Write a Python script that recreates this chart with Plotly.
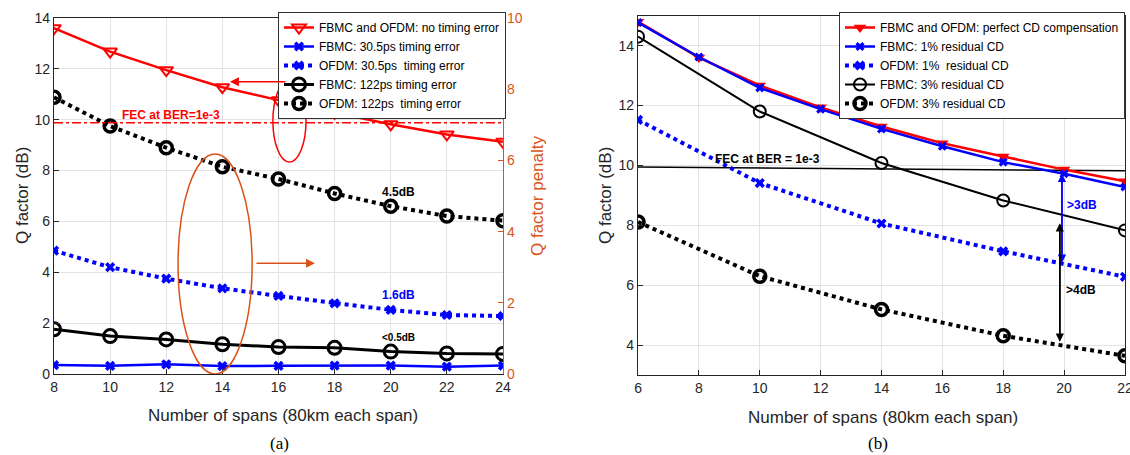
import plotly.graph_objects as go

# ---------------- data: panel (a) ----------------
spans_a = [8, 10, 12, 14, 16, 18, 20, 22, 24]
q_none_a = [13.6, 12.68, 11.95, 11.28, 10.77, 10.27, 9.82, 9.42, 9.13]
q_fbmc_30 = [0.35, 0.32, 0.38, 0.31, 0.32, 0.33, 0.33, 0.29, 0.33]
q_ofdm_30 = [4.85, 4.2, 3.75, 3.37, 3.07, 2.78, 2.52, 2.32, 2.28]
q_fbmc_122 = [1.76, 1.49, 1.36, 1.17, 1.06, 1.03, 0.88, 0.81, 0.79]
q_ofdm_122 = [10.88, 9.75, 8.9, 8.15, 7.67, 7.1, 6.6, 6.21, 6.03]
fec_a = 9.88

# ---------------- data: panel (b) ----------------
spans_b_full = [6, 8, 10, 12, 14, 16, 18, 20, 22]
spans_b = [6, 10, 14, 18, 22]
q_perfect = [14.8, 13.6, 12.67, 11.94, 11.3, 10.74, 10.3, 9.86, 9.47]
q_fbmc_1 = [14.77, 13.62, 12.59, 11.88, 11.22, 10.64, 10.11, 9.72, 9.28]
q_ofdm_1 = [11.52, 9.41, 8.06, 7.13, 6.28]
q_fbmc_3 = [14.3, 11.8, 10.08, 8.83, 7.83]
q_ofdm_3 = [8.11, 6.3, 5.19, 4.31, 3.64]
fec_b = [9.95, 9.82]
fec_b_x = [6, 22]

W, H = 1130, 455
def px(x):
    return x / W
def py(y):
    return 1 - y / H

RED = "#FF0000"
BLUE = "#0000FF"
BLACK = "#000000"
ORANGE = "#D95319"
AX = "#262626"
GRID = "#E3E3E3"
FONT = "Liberation Sans, Arial, sans-serif"
SERIF = "Liberation Serif, Times New Roman, serif"

fig = go.Figure()

# panel (a) traces
fig.add_trace(go.Scatter(x=spans_a, y=q_none_a, mode="lines+markers",
    name="FBMC and OFDM: no timing error", legend="legend",
    line=dict(color=RED, width=2.5),
    marker=dict(symbol="triangle-down-open", size=12, color=RED, line=dict(width=2, color=RED)),
    xaxis="x", yaxis="y"))
fig.add_trace(go.Scatter(x=spans_a, y=q_fbmc_30, mode="lines+markers",
    name="FBMC: 30.5ps timing error", legend="legend",
    line=dict(color=BLUE, width=2.5),
    marker=dict(symbol="x", size=9, color=BLUE),
    xaxis="x", yaxis="y"))
fig.add_trace(go.Scatter(x=spans_a, y=q_ofdm_30, mode="lines+markers",
    name="OFDM: 30.5ps  timing error", legend="legend",
    line=dict(color=BLUE, width=4, dash="dot"),
    marker=dict(symbol="x", size=9, color=BLUE),
    xaxis="x", yaxis="y"))
fig.add_trace(go.Scatter(x=spans_a, y=q_fbmc_122, mode="lines+markers",
    name="FBMC: 122ps timing error", legend="legend",
    line=dict(color=BLACK, width=3),
    marker=dict(symbol="circle-open", size=13, color=BLACK, line=dict(width=3, color=BLACK)),
    xaxis="x", yaxis="y"))
fig.add_trace(go.Scatter(x=spans_a, y=q_ofdm_122, mode="lines+markers",
    name="OFDM: 122ps  timing error", legend="legend",
    line=dict(color=BLACK, width=4, dash="dot"),
    marker=dict(symbol="circle-open", size=12, color=BLACK, line=dict(width=3.5, color=BLACK)),
    xaxis="x", yaxis="y"))
fig.add_trace(go.Scatter(x=[spans_a[0], spans_a[-1]], y=[fec_a, fec_a], mode="lines",
    showlegend=False, hoverinfo="skip",
    line=dict(color=RED, width=1.5, dash="dashdot"), xaxis="x", yaxis="y"))
# dummy for right axis
fig.add_trace(go.Scatter(x=[None], y=[None], showlegend=False, hoverinfo="skip",
    xaxis="x", yaxis="y2"))

# panel (b) traces
fig.add_trace(go.Scatter(x=fec_b_x, y=fec_b, mode="lines", showlegend=False, hoverinfo="skip",
    line=dict(color=BLACK, width=1.5), xaxis="x2", yaxis="y3"))
fig.add_trace(go.Scatter(x=spans_b_full, y=q_perfect, mode="lines+markers",
    name="FBMC and OFDM: perfect CD compensation", legend="legend2",
    line=dict(color=RED, width=2.5),
    marker=dict(symbol="triangle-down", size=11, color=RED),
    xaxis="x2", yaxis="y3"))
fig.add_trace(go.Scatter(x=spans_b_full, y=q_fbmc_1, mode="lines+markers",
    name="FBMC: 1% residual CD", legend="legend2",
    line=dict(color=BLUE, width=2.5),
    marker=dict(symbol="x", size=8, color=BLUE),
    xaxis="x2", yaxis="y3"))
fig.add_trace(go.Scatter(x=spans_b, y=q_ofdm_1, mode="lines+markers",
    name="OFDM: 1%  residual CD", legend="legend2",
    line=dict(color=BLUE, width=4, dash="dot"),
    marker=dict(symbol="x", size=9, color=BLUE),
    xaxis="x2", yaxis="y3"))
fig.add_trace(go.Scatter(x=spans_b, y=q_fbmc_3, mode="lines+markers",
    name="FBMC: 3% residual CD", legend="legend2",
    line=dict(color=BLACK, width=2),
    marker=dict(symbol="circle-open", size=12, color=BLACK, line=dict(width=2, color=BLACK)),
    xaxis="x2", yaxis="y3"))
fig.add_trace(go.Scatter(x=spans_b, y=q_ofdm_3, mode="lines+markers",
    name="OFDM: 3% residual CD", legend="legend2",
    line=dict(color=BLACK, width=4, dash="dot"),
    marker=dict(symbol="circle-open", size=12, color=BLACK, line=dict(width=3.5, color=BLACK)),
    xaxis="x2", yaxis="y3"))

tickfont = dict(family=FONT, size=14, color=AX)
common_x = dict(showgrid=True, gridcolor=GRID, gridwidth=1, showline=True, linecolor=AX,
                linewidth=1.2, mirror=True, ticks="inside", ticklen=5, tickcolor=AX,
                tickfont=tickfont, zeroline=False, automargin=False, ticklabeloverflow="allow")

fig.update_layout(
    width=W, height=H,
    margin=dict(l=0, r=0, t=0, b=0, autoexpand=False),
    paper_bgcolor="white", plot_bgcolor="white",
    font=dict(family=FONT, color=AX),
    xaxis=dict(domain=[px(54), px(503)], range=[7.999, 24.001], tickvals=spans_a, anchor="y", **common_x),
    yaxis=dict(domain=[py(374), py(18)], range=[0, 14], tickvals=[0, 2, 4, 6, 8, 10, 12, 14],
               showgrid=True, gridcolor=GRID, showline=True, linecolor=AX, linewidth=1.2,
               ticks="inside", ticklen=5, tickcolor=AX, tickfont=tickfont, zeroline=False,
               anchor="x", automargin=False, ticklabeloverflow="allow"),
    yaxis2=dict(range=[0, 10], tickvals=[0, 2, 4, 6, 8, 10], overlaying="y", side="right",
                anchor="x", showgrid=False, showline=True, linecolor=ORANGE, linewidth=1.2,
                ticks="inside", ticklen=5, tickcolor=ORANGE, zeroline=False, automargin=False,
                ticklabeloverflow="allow",
                tickfont=dict(family=FONT, size=14, color=ORANGE)),
    xaxis2=dict(domain=[px(638), px(1125)], range=[5.999, 22.001], tickvals=[6, 8, 10, 12, 14, 16, 18, 20, 22],
                anchor="y3", **common_x),
    yaxis3=dict(domain=[py(375), py(15.7)], range=[3, 15], tickvals=[4, 6, 8, 10, 12, 14],
                anchor="x2", **common_x),
    legend=dict(x=px(506), y=py(12), xanchor="right", yanchor="top",
                bgcolor="white", bordercolor="#333333", borderwidth=1,
                font=dict(family=FONT, size=12, color=BLACK), itemwidth=30,
                tracegroupgap=0),
    legend2=dict(x=px(1125), y=py(12), xanchor="right", yanchor="top",
                 bgcolor="white", bordercolor="#333333", borderwidth=1,
                 font=dict(family=FONT, size=12, color=BLACK), itemwidth=30,
                 tracegroupgap=0),
    showlegend=True,
)

# shapes: ellipses
fig.add_shape(type="circle", xref="x", yref="y", x0=15.8, x1=16.98, y0=8.34, y1=11.56,
              line=dict(color=RED, width=1.5))
fig.add_shape(type="circle", xref="x", yref="y", x0=12.42, x1=15.06, y0=0.0, y1=8.65,
              line=dict(color=ORANGE, width=1.5))

ann = []
# arrows panel (a)
ann.append(dict(x=14.27, y=11.49, ax=16.3, ay=11.49, xref="x", yref="y", axref="x", ayref="y",
                showarrow=True, arrowhead=2, arrowsize=1.2, arrowwidth=1.5, arrowcolor=RED, text=""))
ann.append(dict(x=17.3, y=4.36, ax=15.16, ay=4.36, xref="x", yref="y", axref="x", ayref="y",
                showarrow=True, arrowhead=2, arrowsize=1.2, arrowwidth=1.5, arrowcolor=ORANGE, text=""))
# texts panel (a)
def txt(x, y, t, size, color, xref="x", yref="y", family=FONT, angle=0):
    return dict(x=x, y=y, xref=xref, yref=yref, text=t, showarrow=False, textangle=angle,
                xanchor="center", yanchor="middle", font=dict(family=family, size=size, color=color))

ann.append(txt(12.17, 10.18, "<b>FEC at BER=1e-3</b>", 12, RED))
ann.append(txt(20.26, 7.16, "<b>4.5dB</b>", 12, BLACK))
ann.append(txt(20.26, 3.1, "<b>1.6dB</b>", 12, BLUE))
ann.append(txt(20.26, 1.45, "<b><0.5dB</b>", 10, BLACK))
# arrows panel (b)
for (x0, y0, x1, y1, c) in [(19.93, 9.72, 19.93, 6.75, BLUE), (19.86, 8.07, 19.86, 4.11, BLACK)]:
    ann.append(dict(x=x0, y=y0, ax=x1, ay=y1, xref="x2", yref="y3", axref="x2", ayref="y3",
                    showarrow=True, arrowhead=2, arrowsize=1.1, arrowwidth=1.5, arrowcolor=c, text=""))
    ann.append(dict(x=x1, y=y1, ax=x0, ay=y0, xref="x2", yref="y3", axref="x2", ayref="y3",
                    showarrow=True, arrowhead=2, arrowsize=1.1, arrowwidth=1.5, arrowcolor=c, text=""))
ann.append(txt(20.59, 8.67, "<b>>3dB</b>", 12, BLUE, "x2", "y3"))
ann.append(txt(20.55, 5.83, "<b>>4dB</b>", 12, BLACK, "x2", "y3"))
ann.append(txt(10.24, 10.23, "<b>FEC at BER = 1e-3</b>", 12, BLACK, "x2", "y3"))
# axis titles
ann.append(txt(px(283), py(415), "Number of spans (80km each span)", 17, AX, "paper", "paper"))
ann.append(txt(px(883), py(417), "Number of spans (80km each span)", 17, AX, "paper", "paper"))
ann.append(txt(px(22), py(196), "Q factor (dB)", 17, AX, "paper", "paper", angle=-90))
ann.append(txt(px(605), py(196), "Q factor (dB)", 17, AX, "paper", "paper", angle=-90))
ann.append(txt(px(537), py(196), "Q factor penalty", 17, ORANGE, "paper", "paper", angle=-90))
ann.append(txt(px(279), py(443), "(a)", 17, BLACK, "paper", "paper", family=SERIF))
ann.append(txt(px(878), py(443), "(b)", 17, BLACK, "paper", "paper", family=SERIF))

fig.update_layout(annotations=ann)

fig.write_html("out.html", config={"displayModeBar": False},
               post_script="document.body.style.margin='0';document.body.style.padding='0';")
